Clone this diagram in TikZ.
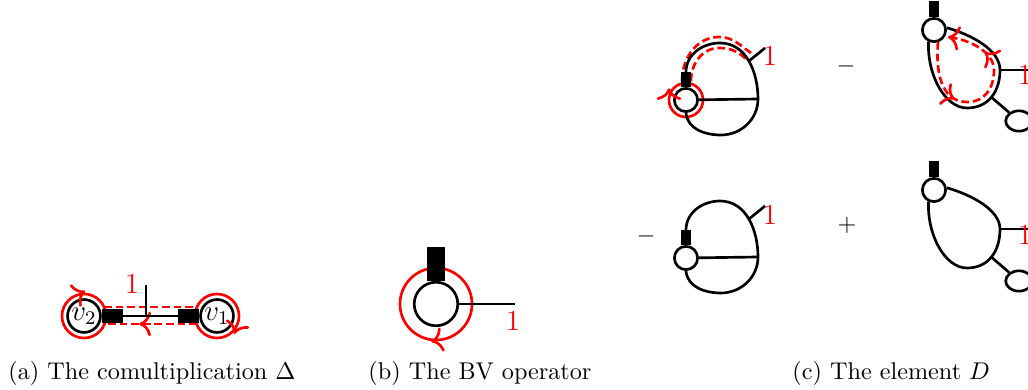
\documentclass[tikz,border=0pt]{standalone}
\usepackage{amsmath}
\usetikzlibrary{arrows.meta,decorations.markings,shapes.geometric}

\begin{document}
\begin{tikzpicture}[x=0.4132pt,y=0.4132pt,>={To[scale=1.2]},
graphedge/.style={line width=1.1pt},
stub/.style={line width=#1},
smallvtx/.style={
% The shape:
circle,inner sep=0pt,minimum size=9.6pt,
% The border:
draw,line width=1.1pt,
% The filling:
fill=white},
labvtx/.style={circle,inner sep=0pt,minimum size=13.6pt,draw,line width=1.1pt,fill=white,font=\large},
bigvtx/.style={circle,inner sep=0pt,minimum size=18pt,draw,line width=1.1pt,fill=white},
leaf/.style={ellipse,inner sep=0pt,minimum width=11pt,minimum height=8.4pt,draw,line width=1.1pt,fill=white},
orient/.style={red,line width=1.1pt},
flowline/.style={red,line width=1.1pt,dash pattern=on 3.2pt off 1.6pt},
% arrow against the drawing direction (clockwise on a circle)
cwarrow/.style={postaction={decorate},decoration={markings,mark=at position #1 with {\arrow{<}}}},
fwdarrow/.style={postaction={decorate},decoration={markings,mark=at position #1 with {\arrow{>}}}},
flowtips/.style 2 args={postaction={decorate},decoration={markings,mark=at position #1 with {\arrow{>}},mark=at position #2 with {\arrow{>}}}},
weightlbl/.style={red,font=\large,inner sep=0pt},
signlbl/.style={inner sep=0pt},
subcap/.style={anchor=base west,inner sep=0pt}]

\useasboundingbox (0,0) rectangle (1028,-390);
\clip (0,0) rectangle (1028,-390);

% (a) comultiplication
\node[labvtx] (v2) at (84,-316) {$v_2$};
\node[labvtx] (v1) at (217,-316) {$v_1$};
\coordinate (a2) at (123,-316);
\coordinate (a1) at (178,-316);
\coordinate (aj) at (146,-316);
\coordinate (al) at (146,-285);
\coordinate (d2t) at (104,-307);
\coordinate (d1t) at (197,-307);
\coordinate (d2b) at (104,-324);
\coordinate (d1b) at (197,-324);
\draw[orient,cwarrow=0.32] (v2) circle (22);
\draw[orient,cwarrow=0.95] (v1) circle (22);
\draw[flowline] (d2t) -- (d1t);
\draw[flowline,fwdarrow=0.62] (d1b) -- (d2b);
\draw[graphedge] (a2) -- (a1);
\draw[graphedge] (aj) -- (al);
\draw[stub=5.4pt] (v2.east) -- (a2);
\draw[stub=5.4pt] (v1.west) -- (a1);
\node[weightlbl] (wa) at (132,-284) {1};

% (b) BV operator
\node[bigvtx] (bv) at (436,-304) {};
\coordinate (bt) at (436,-247);
\coordinate (bl) at (515,-304);
\draw[orient,cwarrow=0.78] (bv) circle (36);
\draw[stub=7.4pt] (bv.north) -- (bt);
\draw[graphedge] (bv) -- (bl);
\node[weightlbl] (wb) at (513,-321) {1};

% (c) first term
\node[smallvtx] (ca) at (686,-100) {};
\coordinate (caT) at (686,-72);
\coordinate (caR) at (758,-99);
\coordinate (caL) at (765,-48);
\coordinate (fa1) at (682,-81);
\coordinate (fa2) at (751,-53);
\coordinate (fa3) at (691,-81);
\coordinate (fa4) at (747,-60);
\draw[orient,cwarrow=0.5] (ca) circle (17);
\draw[flowline] (fa1) to[out=90,in=180] (719,-37) to[out=0,in=145] (fa2);
\draw[flowline] (fa3) to[out=90,in=180] (719,-48) to[out=0,in=135] (fa4);
\draw[graphedge] (caT) to[out=90,in=180] (720,-43) to[out=0,in=90] node[coordinate,pos=0.5] (caJ) {} (caR)
  to[out=-90,in=0] (721,-135) to[out=180,in=-85] (ca.south);
\draw[stub=3.9pt] (ca.north) -- (caT);
\draw[graphedge] (ca) -- (caR);
\draw[graphedge] (caJ) -- (caL);
\node[weightlbl] (wc1) at (770,-56) {1};

\node[signlbl] (m1) at (846,-66) {$-$};

% (c) second term
\node[smallvtx] (cb) at (934,-30) {};
\coordinate (cbT) at (934,-1);
\coordinate (cbR) at (1000,-70);
\coordinate (cbB) at (967,-108);
\coordinate (cbL) at (1035,-70);
\coordinate (fb1) at (938,-42);
\coordinate (fb2) at (948,-37);
\node[leaf] (cbO) at (1019,-121) {};
\draw[graphedge] (cb.10) .. controls (972,-35) and (1000,-50) .. (cbR)
  .. controls (1000,-92) and (988,-108) .. (cbB) node[coordinate,pos=0.5] (cbE) {}
  .. controls (945,-108) and (927,-75) .. (cb.245);
\draw[stub=3.9pt] (cb.north) -- (cbT);
\draw[graphedge] (cbR) -- (cbL);
\draw[graphedge] (cbE) -- (cbO);
\draw[flowline,->,flowtips={0.34}{0.78}] (fb1) .. controls (935,-80) and (945,-102) .. (967,-102)
  .. controls (985,-102) and (994,-88) .. (994,-70) .. controls (994,-52) and (970,-40) .. (fb2);
\node[weightlbl] (wc2) at (1025,-75) {1};

% (c) third term
\node[signlbl] (m2) at (646,-236) {$-$};
\node[smallvtx] (cc) at (686,-258) {};
\coordinate (ccT) at (686,-230);
\coordinate (ccR) at (758,-257);
\coordinate (ccL) at (765,-206);
\draw[graphedge] (ccT) to[out=90,in=180] (720,-201) to[out=0,in=90] node[coordinate,pos=0.5] (ccJ) {} (ccR)
  to[out=-90,in=0] (721,-293) to[out=180,in=-85] (cc.south);
\draw[stub=3.9pt] (cc.north) -- (ccT);
\draw[graphedge] (cc) -- (ccR);
\draw[graphedge] (ccJ) -- (ccL);
\node[weightlbl] (wc3) at (770,-215) {1};

% (c) fourth term
\node[signlbl] (p1) at (847,-225) {$+$};
\node[smallvtx] (cd) at (934,-190) {};
\coordinate (cdT) at (934,-161);
\coordinate (cdR) at (1000,-229);
\coordinate (cdB) at (967,-268);
\coordinate (cdL) at (1035,-229);
\node[leaf] (cdO) at (1019,-281) {};
\draw[graphedge] (cd.10) .. controls (972,-195) and (1000,-210) .. (cdR)
  .. controls (1000,-252) and (988,-268) .. (cdB) node[coordinate,pos=0.5] (cdE) {}
  .. controls (945,-268) and (927,-235) .. (cd.245);
\draw[stub=3.9pt] (cd.north) -- (cdT);
\draw[graphedge] (cdR) -- (cdL);
\draw[graphedge] (cdE) -- (cdO);
\node[weightlbl] (wc4) at (1025,-235) {1};

% captions
\node[subcap] (capa) at (8,-380) {(a) The comultiplication $\Delta$};
\node[subcap] (capb) at (368,-380) {(b) The BV operator};
\node[subcap] (capc) at (792,-380) {(c) The element $D$};
\end{tikzpicture}
\end{document}
